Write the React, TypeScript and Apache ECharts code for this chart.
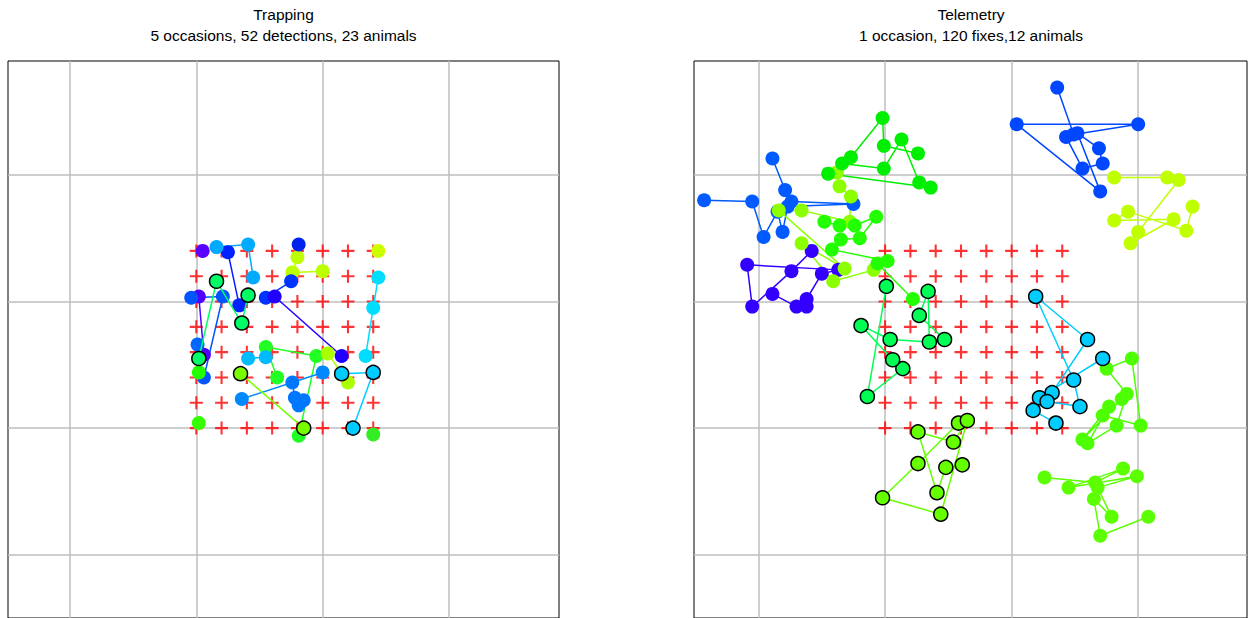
import React, { useEffect, useRef } from 'react';
import * as echarts from 'echarts';

// ---- data (metres; trap grid 20 m spacing) ----
const trapXs = [0, 20, 40, 60, 80, 100, 120, 140];
const trapYs = [0, 20, 40, 60, 80, 100, 120, 140];
const gridXs = [-100, 0, 100, 200];
const gridYs = [-100, 0, 100, 200];

const leftTitle = 'Trapping';
const leftSubtitle = '5 occasions, 52 detections, 23 animals';
const rightTitle = 'Telemetry';
const rightSubtitle = '1 occasion, 120 fixes,12 animals';

// Trapping: detections per animal
const trap01 = [[2, 104], [6, 58]];
const trap02 = [[5, 140]];
const trap03 = [[25, 139], [34, 97]];
const trap04 = [[16, 143], [41, 145], [45, 119]];
const trap05 = [[41, 105], [36, 83], [16, 116], [2, 55]];
const trap06 = [[-4, 103], [21, 104], [6, 40]];
const trap07 = [[1, 66]];
const trap08 = [[80, 135], [76, 123], [100, 124]];
const trap09 = [[144, 140]];
const trap10 = [[75, 116], [55, 103]];
const trap11 = [[81, 145]];
const trap12 = [[62, 104], [115, 57]];
const trap13 = [[144, 119], [140, 95], [134, 57]];
const trap14 = [[64, 40], [55, 64], [95, 57], [81, -6]];
const trap15 = [[41, 55], [55, 56]];
const trap16 = [[35, 43], [85, 0]];
const trap17 = [[36, 23], [100, 44]];
const trap18 = [[76, 36], [78, 24], [85, 22], [81, 18]];
const trap19 = [[104, 59], [120, 36]];
const trap20 = [[115, 43], [140, 44], [124, 0]];
const trap21 = [[2, 44]];
const trap22 = [[2, 4]];
const trap23 = [[140, -5]];

// Telemetry: fixes per animal
const tele01 = [[136, 269], [149, 232], [200, 240], [104, 240], [170, 187], [152, 233], [169, 221], [172, 209], [156, 205], [143, 230]];
const tele02 = [[181, 198], [223, 198], [232, 196], [200, 155], [194, 146], [228, 165], [181, 164], [192, 171], [238, 156], [243, 175]];
const tele03 = [[-143, 180], [-105, 179], [-96, 151], [-85, 171], [-81, 155], [-77, 175], [-25, 177], [-74, 179], [-79, 188], [-89, 213]];
const tele04 = [[-58, 140], [-74, 124], [-105, 96], [-109, 129], [-37, 125], [-50, 122], [-62, 102], [-62, 96], [-70, 96], [-89, 106]];
const tele05 = [[-38, 202], [-36, 191], [-27, 183], [-28, 163], [-66, 172], [-84, 172], [-32, 126], [-66, 146], [-41, 116], [-9, 125]];
const tele06 = [[-45, 201], [36, 190], [27, 194], [13, 228], [-1, 205], [-34, 209], [-27, 214], [-2, 245], [-1, 223], [26, 217]];
const tele07 = [[-48, 163], [-36, 160], [-24, 160], [-7, 167], [-20, 150], [-35, 149], [-42, 141], [2, 132], [-6, 130], [22, 102]];
const tele08 = [[1, 112], [-14, 25], [14, 47], [6, 54], [-19, 81], [4, 70], [35, 68], [34, 108], [27, 89], [47, 70]];
const tele09 = [[58, 4], [26, -28], [-2, -55], [44, -68], [65, 6], [54, -11], [26, -3], [41, -51], [48, -31], [61, -29]];
const tele10 = [[172, 55], [122, 24], [132, 28], [160, 70], [119, 104], [149, 38], [154, 17], [128, 21], [117, 14], [135, 4]];
const tele11 = [[187, 23], [156, -9], [177, 17], [160, -12], [183, 2], [191, 27], [175, 47], [195, 55], [202, 2], [172, 10]];
const tele12 = [[126, -39], [166, -43], [188, -32], [145, -47], [199, -38], [168, -47], [179, -70], [165, -56], [170, -85], [208, -70]];

const trapTracks = [trap01, trap02, trap03, trap04, trap05, trap06, trap07, trap08, trap09, trap10, trap11, trap12,
  trap13, trap14, trap15, trap16, trap17, trap18, trap19, trap20, trap21, trap22, trap23];
const trapColors = ['#5000ff', '#5a00ff', '#0022ff', '#00aaff', '#00ff66', '#0055ff', '#0066ff', '#bbff00', '#ccff00',
  '#0033ff', '#0022ee', '#2200ff', '#00ddff', '#22ff22', '#00bbff', '#77ff00', '#0088ff', '#0077ff', '#aaff00',
  '#00ccff', '#22ff00', '#33ff00', '#33ee22'];
const trapBordered = [5, 16, 20];

const teleTracks = [tele01, tele02, tele03, tele04, tele05, tele06, tele07, tele08, tele09, tele10, tele11, tele12];
const teleColors = ['#0047ff', '#bfff00', '#005aff', '#3300ff', '#8cff00', '#00ee00', '#22ff00', '#00ff55', '#66ff00',
  '#00ccff', '#4dff00', '#5cff00'];
const teleBordered = [8, 9, 10];

const PLUS = 'path://M-0.16,-1H0.16V-0.16H1V0.16H0.16V1H-0.16V0.16H-1V-0.16H-0.16Z';
const FONT = '15.5px "Liberation Sans", Arial, sans-serif';

function trackSeries(data: number[][], color: string, bordered: boolean, idx: number) {
  return {
    type: 'line',
    xAxisIndex: idx,
    yAxisIndex: idx,
    data,
    symbol: 'circle',
    symbolSize: 14,
    showSymbol: true,
    showAllSymbol: true,
    silent: true,
    z: bordered ? 5 : 4,
    lineStyle: { color, width: 1.5 },
    itemStyle: { color, borderColor: bordered ? '#000' : color, borderWidth: bordered ? 1.5 : 0, opacity: 1 },
    emphasis: { disabled: true },
  };
}

function backgroundSeries(idx: number) {
  const traps: number[][] = [];
  trapXs.forEach((x) => trapYs.forEach((y) => traps.push([x, y])));
  return [
    {
      type: 'scatter',
      xAxisIndex: idx,
      yAxisIndex: idx,
      data: [],
      z: 1,
      silent: true,
      markLine: {
        z: 1,
        silent: true,
        symbol: ['none', 'none'],
        label: { show: false },
        lineStyle: { color: '#bebebe', width: 1.5, type: 'solid' },
        emphasis: { disabled: true },
        data: [...gridXs.map((v) => ({ xAxis: v })), ...gridYs.map((v) => ({ yAxis: v }))],
      },
    },
    {
      type: 'scatter',
      xAxisIndex: idx,
      yAxisIndex: idx,
      data: traps,
      symbol: PLUS,
      symbolSize: 13,
      z: 2,
      silent: true,
      itemStyle: { color: '#ff0000' },
    },
  ];
}

function title(x: number, y: number, text: string) {
  return {
    type: 'text',
    x,
    y,
    style: {
      text,
      font: FONT,
      fill: '#000',
      textAlign: 'center',
      align: 'center',
      verticalAlign: 'middle',
      textVerticalAlign: 'middle',
    },
  };
}

export default function App() {
  const ref = useRef<HTMLDivElement>(null);
  useEffect(() => {
    document.body.style.margin = '0';
    const chart = echarts.init(ref.current!, null, { renderer: 'svg' });
    const series: any[] = [
      ...backgroundSeries(0),
      ...backgroundSeries(1),
      ...trapTracks.map((d, i) => trackSeries(d, trapColors[i], trapBordered.includes(i + 1), 0)),
      ...teleTracks.map((d, i) => trackSeries(d, teleColors[i], teleBordered.includes(i + 1), 1)),
    ];
    chart.setOption({
      animation: false,
      grid: [
        { left: 8, top: 61, width: 551, height: 557, show: true, borderColor: '#000', borderWidth: 1, backgroundColor: 'transparent' },
        { left: 694, top: 61, width: 553, height: 557, show: true, borderColor: '#000', borderWidth: 1, backgroundColor: 'transparent' },
      ],
      xAxis: [
        { type: 'value', gridIndex: 0, min: -149, max: 287, show: false },
        { type: 'value', gridIndex: 1, min: -151, max: 286, show: false },
      ],
      yAxis: [
        { type: 'value', gridIndex: 0, min: -150, max: 290, show: false },
        { type: 'value', gridIndex: 1, min: -150, max: 290, show: false },
      ],
      graphic: [
        title(283.5, 14, leftTitle),
        title(283.5, 35, leftSubtitle),
        title(971, 14, rightTitle),
        title(971, 35, rightSubtitle),
      ],
      series,
    });
    return () => chart.dispose();
  }, []);
  return <div ref={ref} style={{ position: 'absolute', left: 0, top: 0, width: 1249, height: 618 }} />;
}
